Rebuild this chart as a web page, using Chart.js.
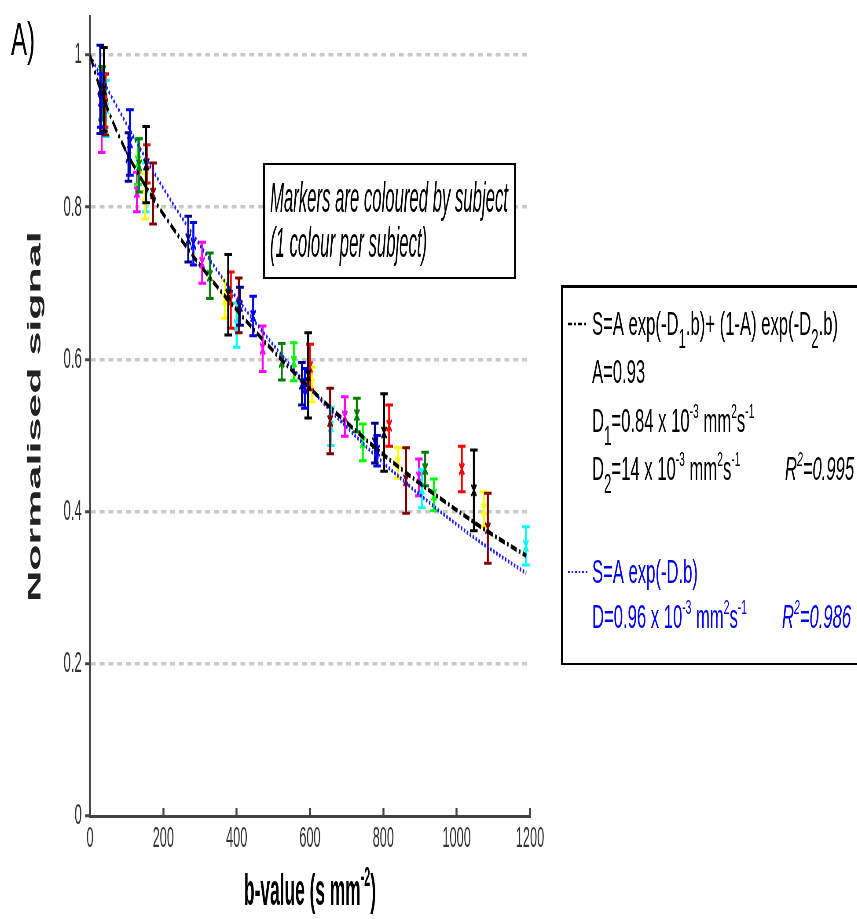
<!DOCTYPE html>
<html>
<head>
<meta charset="utf-8">
<script src="https://cdn.jsdelivr.net/npm/chart.js@4.4.1/dist/chart.umd.min.js"></script>
<style>
  html, body { margin: 0; padding: 0; background: #fff; overflow: hidden; }
  /* the original figure is squeezed sideways: draw it wide, then squash it */
  #wrap { width: 1948px; height: 919px; transform: scaleX(0.44); transform-origin: 0 0; }
</style>
</head>
<body>
<div id="wrap"><canvas id="chart" width="1948" height="919"></canvas></div>
<script>
const SX = 0.44;

const xTicks = [0, 200, 400, 600, 800, 1000, 1200];
const xTickLabels = ['0', '200', '400', '600', '800', '1000', '1200'];
const yTicks = [0, 0.2, 0.4, 0.6, 0.8, 1];
const yTickLabels = ['0', '0.2', '0.4', '0.6', '0.8', '1'];

// one colour per subject
const subjectColours = ['#000090', '#0000ff', '#000000', '#ff0000', '#800000',
                        '#008000', '#00ff00', '#ffff00', '#00ffff', '#ff00ff'];

// measured points: b-value, mean signal, error, subject index
const pointB = [28, 30, 38, 40, 42, 33, 35, 36, 44, 32,
                105, 109, 153, 155, 172, 134, 131, 150, 152, 128,
                268, 282, 306, 327,
                368, 377, 384, 400, 406, 409, 445, 471,
                523, 556, 578, 586, 595, 600, 605,
                655, 657, 695, 728, 744, 777, 783, 802, 816,
                840, 862, 897, 905, 914, 938,
                1014, 1047, 1074, 1085, 1189];
const pointMean = [0.955, 0.94, 0.955, 0.94, 0.935, 0.95, 0.945, 0.94, 0.93, 0.91,
                   0.866, 0.885, 0.856, 0.857, 0.818, 0.855, 0.86, 0.815, 0.826, 0.82,
                   0.758, 0.752, 0.727, 0.71,
                   0.679, 0.685, 0.678, 0.645, 0.671, 0.67, 0.657, 0.614,
                   0.597, 0.597, 0.568, 0.562, 0.579, 0.59, 0.567,
                   0.519, 0.512, 0.525, 0.527, 0.491, 0.49, 0.48, 0.504, 0.513,
                   0.464, 0.441, 0.445, 0.43, 0.456, 0.422,
                   0.456, 0.428, 0.403, 0.378, 0.355];
const pointErr = [0.058, 0.035, 0.055, 0.035, 0.04, 0.035, 0.03, 0.03, 0.037, 0.038,
                  0.032, 0.043, 0.05, 0.025, 0.04, 0.035, 0.03, 0.03, 0.032, 0.026,
                  0.03, 0.028, 0.027, 0.03,
                  0.025, 0.053, 0.037, 0.029, 0.036, 0.025, 0.026, 0.03,
                  0.024, 0.025, 0.028, 0.026, 0.056, 0.03, 0.023,
                  0.043, 0.025, 0.026, 0.022, 0.024, 0.026, 0.02, 0.051, 0.027,
                  0.02, 0.043, 0.024, 0.025, 0.022, 0.021,
                  0.03, 0.053, 0.023, 0.046, 0.025];
const pointSubject = [0, 1, 2, 3, 4, 5, 6, 7, 8, 9,
                      0, 1, 2, 3, 4, 5, 6, 7, 8, 9,
                      0, 1, 9, 5,
                      7, 2, 3, 8, 4, 0, 1, 9,
                      5, 6, 0, 1, 2, 3, 7,
                      4, 8, 9, 5, 6, 0, 1, 2, 3,
                      7, 4, 9, 8, 5, 6,
                      3, 2, 7, 4, 8];

// fitted curves
const fitB = [0, 25, 50, 75, 100, 150, 200, 300, 400, 500, 600, 700, 800, 900, 1000, 1100, 1190];
const fitBiexp = [1.000, 0.960, 0.927, 0.898, 0.872, 0.829, 0.791, 0.724, 0.665, 0.611,
                  0.562, 0.517, 0.475, 0.437, 0.402, 0.369, 0.342];
const fitMonoexp = [1.000, 0.976, 0.953, 0.931, 0.909, 0.866, 0.825, 0.750, 0.681, 0.619,
                    0.562, 0.511, 0.464, 0.422, 0.383, 0.348, 0.319];

const ux = x => x / SX;   // page x -> canvas x

const datasets = [{
  label: 'bi-exponential', data: fitB.map((b, i) => ({ x: b, y: fitBiexp[i] })),
  showLine: true, borderColor: '#000', borderWidth: 4.5, borderDash: [14, 5, 4, 5],
  pointRadius: 0, cubicInterpolationMode: 'monotone', order: 0
}, {
  label: 'mono-exponential', data: fitB.map((b, i) => ({ x: b, y: fitMonoexp[i] })),
  showLine: true, borderColor: '#1a1aff', borderWidth: 3.8, borderDash: [3.5, 3.5],
  pointRadius: 0, cubicInterpolationMode: 'monotone', order: 0
}];
subjectColours.forEach((c, s) => {
  const data = [];
  pointSubject.forEach((v, i) => {
    if (v === s) data.push({ x: pointB[i], y: pointMean[i], err: pointErr[i] });
  });
  datasets.push({
    label: 'subject ' + (s + 1), data, showLine: false, errorBars: true,
    pointStyle: 'crossRot', pointRadius: 8, pointBorderWidth: 3,
    borderColor: c, backgroundColor: c, order: 1
  });
});

const errorBarPlugin = {
  id: 'errorBars',
  afterDatasetDraw(chart, args) {
    const ds = chart.data.datasets[args.index];
    if (!ds.errorBars) return;
    const ctx = chart.ctx, y = chart.scales.y;
    ctx.save();
    ctx.strokeStyle = ds.borderColor;
    args.meta.data.forEach((pt, i) => {
      const d = ds.data[i];
      const top = y.getPixelForValue(d.y + d.err);
      const bot = y.getPixelForValue(d.y - d.err);
      ctx.lineWidth = 4.5;
      ctx.beginPath(); ctx.moveTo(pt.x, top); ctx.lineTo(pt.x, bot); ctx.stroke();
      ctx.lineWidth = 3;
      ctx.beginPath();
      ctx.moveTo(pt.x - 8.5, top); ctx.lineTo(pt.x + 8.5, top);
      ctx.moveTo(pt.x - 8.5, bot); ctx.lineTo(pt.x + 8.5, bot);
      ctx.stroke();
    });
    ctx.restore();
  }
};

// rich text: parts are [text, kind, italic]; kind '' | 'sub' | 'sup'
function partFont(size, kind, italic, bold) {
  let s = size;
  if (kind === 'sub') s = size * 0.8;
  if (kind === 'sup') s = size * 0.62;
  return (italic ? 'italic ' : '') + (bold ? 'bold ' : '') + s + 'px "Liberation Sans"';
}
function richWidth(ctx, parts, size, bold) {
  let w = 0;
  for (const [t, kind, it] of parts) {
    ctx.font = partFont(size, kind, it, bold);
    w += ctx.measureText(t).width;
  }
  return w;
}
function drawRich(ctx, parts, x, y, size, fx, colour, bold) {
  ctx.save();
  ctx.translate(ux(x), y);
  ctx.scale(fx, 1);
  ctx.fillStyle = colour;
  ctx.textBaseline = 'alphabetic';
  ctx.textAlign = 'left';
  let cx = 0;
  for (const [t, kind, it] of parts) {
    let dy = 0;
    if (kind === 'sub') dy = size * 0.38;
    if (kind === 'sup') dy = -size * 0.42;
    ctx.font = partFont(size, kind, it, bold);
    ctx.fillText(t, cx, dy);
    cx += ctx.measureText(t).width;
  }
  ctx.restore();
}
function fitFactor(ctx, parts, size, realWidth, bold) {
  return ux(realWidth) / richWidth(ctx, parts, size, bold);
}
// box with borders of real pixel thickness
function box(ctx, x0, y0, x1, y1, t, tTop) {
  ctx.save();
  ctx.fillStyle = '#fff';
  ctx.fillRect(ux(x0), y0, ux(x1 - x0), y1 - y0);
  ctx.fillStyle = '#000';
  ctx.fillRect(ux(x0), y0, ux(x1 - x0), tTop);
  ctx.fillRect(ux(x0), y1 - t, ux(x1 - x0), t);
  ctx.fillRect(ux(x0), y0, ux(t), y1 - y0);
  ctx.fillRect(ux(x1 - t), y0, ux(t), y1 - y0);
  ctx.restore();
}

const figureText = {
  id: 'figureText',
  afterDraw(chart) {
    const ctx = chart.ctx;

    // panel label
    const lab = [['A)', '']];
    drawRich(ctx, lab, 11, 55, 46, fitFactor(ctx, lab, 46, 24), '#000');

    // x axis title
    const xt = [['b-value (s mm', ''], ['-2', 'sup'], [')', '']];
    drawRich(ctx, xt, 244, 905, 45, fitFactor(ctx, xt, 45, 132, true), '#000', true);

    // note box
    box(ctx, 263, 163, 516, 279, 2, 2);
    const n1 = [['Markers are coloured by subject', '', true]];
    const n2 = [['(1 colour per subject)', '', true]];
    const fn = fitFactor(ctx, n1, 42, 238);
    drawRich(ctx, n1, 270, 212, 42, fn, '#000');
    drawRich(ctx, n2, 270, 257, 42, fn, '#000');

    // fit legend box
    box(ctx, 561, 285, 900, 665, 2, 3);
    const sz = 34;
    const l1 = [['S=A exp(-D', ''], ['1', 'sub'], ['.b)+ (1-A) exp(-D', ''], ['2', 'sub'], ['.b)', '']];
    const f = fitFactor(ctx, l1, sz, 246);
    const units = [[' mm', ''], ['2', 'sup'], ['s', ''], ['-1', 'sup']];
    const l2 = [['A=0.93', '']];
    const l3 = [['D', ''], ['1', 'sub'], ['=0.84 x 10', ''], ['-3', 'sup']].concat(units);
    const l4 = [['D', ''], ['2', 'sub'], ['=14 x 10', ''], ['-3', 'sup']].concat(units);
    const r4 = [['R', '', true], ['2', 'sup', true], ['=0.995', '', true]];
    const l5 = [['S=A exp(-D.b)', '']];
    const l6 = [['D=0.96 x 10', ''], ['-3', 'sup']].concat(units);
    const r6 = [['R', '', true], ['2', 'sup', true], ['=0.986', '', true]];
    drawRich(ctx, l1, 592, 335, sz, f, '#000');
    drawRich(ctx, l2, 592, 383, sz, f, '#000');
    drawRich(ctx, l3, 592, 432, sz, f, '#000');
    drawRich(ctx, l4, 592, 480, sz, f, '#000');
    drawRich(ctx, r4, 785, 480, sz, f, '#000');
    drawRich(ctx, l5, 592, 583, sz, f, '#0000ee');
    drawRich(ctx, l6, 592, 628, sz, f, '#0000ee');
    drawRich(ctx, r6, 782, 628, sz, f, '#0000ee');

    // line samples
    ctx.save();
    ctx.lineWidth = 2.5;
    ctx.strokeStyle = '#000';
    ctx.setLineDash([9, 5, 4, 5]);
    ctx.beginPath(); ctx.moveTo(ux(568), 324); ctx.lineTo(ux(588), 324); ctx.stroke();
    ctx.strokeStyle = '#1a1aff';
    ctx.lineWidth = 2;
    ctx.setLineDash([4, 4]);
    ctx.beginPath(); ctx.moveTo(ux(568), 572); ctx.lineTo(ux(588), 572); ctx.stroke();
    ctx.restore();
  }
};

Chart.defaults.font.family = 'Liberation Sans';

new Chart(document.getElementById('chart'), {
  type: 'scatter',
  data: { datasets },
  options: {
    responsive: false,
    animation: false,
    layout: { padding: { left: 0, right: 743.5, top: 17, bottom: 0 } },
    plugins: { legend: { display: false }, tooltip: { enabled: false } },
    scales: {
      x: {
        type: 'linear', min: 0, max: 1200,
        afterBuildTicks: s => { s.ticks = xTicks.map(v => ({ value: v })); },
        afterFit: s => { s.height = 103; s.paddingLeft = 0; s.paddingRight = 0; },
        grid: { drawOnChartArea: false, drawTicks: true, tickLength: -8, tickColor: '#444', tickWidth: 4.5 },
        border: { color: '#444', width: 3 },
        ticks: { color: '#333', font: { size: 29 }, padding: 14, maxRotation: 0, autoSkip: false,
                 callback: (v, i) => xTickLabels[i] }
      },
      y: {
        type: 'linear', min: 0, max: 1.05,
        afterBuildTicks: s => { s.ticks = yTicks.map(v => ({ value: v })); },
        afterFit: s => { s.width = 204.5; s.paddingTop = 0; s.paddingBottom = 0; },
        grid: {
          color: c => (c.tick && c.tick.value === 0) ? 'rgba(0,0,0,0)' : '#c8c8c8',
          lineWidth: 3.5, drawTicks: true, tickLength: 11, tickColor: '#444', tickWidth: 3
        },
        border: { color: '#444', width: 4.5, dash: [11, 9] },
        ticks: { color: '#333', font: { size: 30 }, padding: 7.5, callback: (v, i) => yTickLabels[i] },
        title: {
          display: true, text: 'Normalised signal', color: '#222',
          font: { size: 43, weight: 'bold' }, padding: { top: 54, bottom: 0 }
        }
      }
    }
  },
  plugins: [errorBarPlugin, figureText]
});
</script>
</body>
</html>
